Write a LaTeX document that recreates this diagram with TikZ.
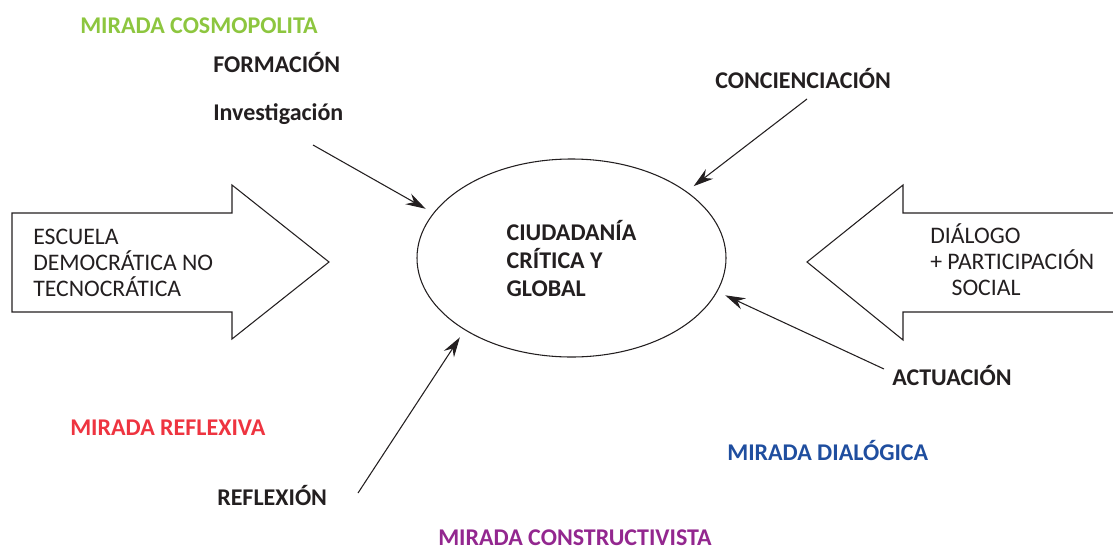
\documentclass[tikz,border=0pt]{standalone}
\usepackage{fontspec}
\setmainfont{Carlito}
\usetikzlibrary{arrows.meta,shapes.geometric}
\definecolor{Ink}{HTML}{231F20}
\definecolor{Cosmo}{HTML}{8DC63F}
\definecolor{Reflex}{HTML}{EE3440}
\definecolor{Dialog}{HTML}{1F4E9F}
\definecolor{Constr}{HTML}{93278F}

\begin{document}
\begin{tikzpicture}[x=0.75pt,y=-0.75pt,
    lbl/.style={anchor=base west,inner sep=0pt,font=\fontsize{18}{21}\selectfont\bfseries,text=Ink},
    boxtxt/.style={anchor=base west,inner sep=0pt,align=left,font=\fontsize{17.8}{19.2}\selectfont,text=Ink},
    feed/.style={draw=Ink,line width=0.8pt,-{Stealth[length=15pt,width=9pt,inset=5pt]},shorten >=6.5pt}]
  \useasboundingbox (0,0) rectangle (1113,550);
  % block arrows
  \draw[Ink,line width=0.8pt] (12,213) -- (232,213) -- (232,185) -- (329,262) -- (232,339) -- (232,312) -- (12,312) -- cycle;
  \draw[Ink,line width=0.8pt] (1113,213) -- (903,213) -- (903,185) -- (807,262) -- (903,340) -- (903,312) -- (1113,312);
  \node[boxtxt] (escuela) at (33,296) {ESCUELA\\DEMOCRÁTICA NO\\TECNOCRÁTICA};
  \node[boxtxt] (dialogo) at (930,295) {DIÁLOGO\\+ PARTICIPACIÓN\\\hspace{0.9em}SOCIAL};
  % centre
  \node[ellipse,draw=Ink,line width=0.8pt,minimum width=231.75pt,minimum height=148.5pt,inner sep=0pt,
        align=left,font=\fontsize{18}{21}\selectfont\bfseries,text=Ink] (ciud) at (571.5,258) {CIUDADANÍA\\CRÍTICA Y\\GLOBAL\hspace*{1.2em}};
  % labels
  \node[lbl,text=Cosmo] (cosmo) at (80,33) {MIRADA COSMOPOLITA};
  \node[lbl] (formacion) at (213,72) {FORMACIÓN};
  \node[lbl] (investig) at (213,120) {Investigación};
  \node[lbl] (concien) at (715,88) {CONCIENCIACIÓN};
  \node[lbl] (actuacion) at (892,385) {ACTUACIÓN};
  \node[lbl,text=Reflex] (reflexiva) at (70,435) {MIRADA REFLEXIVA};
  \node[lbl,text=Dialog] (dialogica) at (727,460) {MIRADA DIALÓGICA};
  \node[lbl] (reflexion) at (217,505) {REFLEXIÓN};
  \node[lbl,text=Constr] (constr) at (438,545.5) {MIRADA CONSTRUCTIVISTA};
  % feeding arrows
  \coordinate (formStart) at (313,145);
  \coordinate (concStart) at (807,99);
  \coordinate (actStart) at (884,369);
  \coordinate (reflStart) at (358,493);
  \draw[feed] (formStart) -- (ciud.162.6);
  \draw[feed] (concStart) -- (ciud.30.3);
  \draw[feed] (actStart) -- (ciud.-13.5);
  \draw[feed] (reflStart) -- (ciud.214.6);
\end{tikzpicture}
\end{document}
